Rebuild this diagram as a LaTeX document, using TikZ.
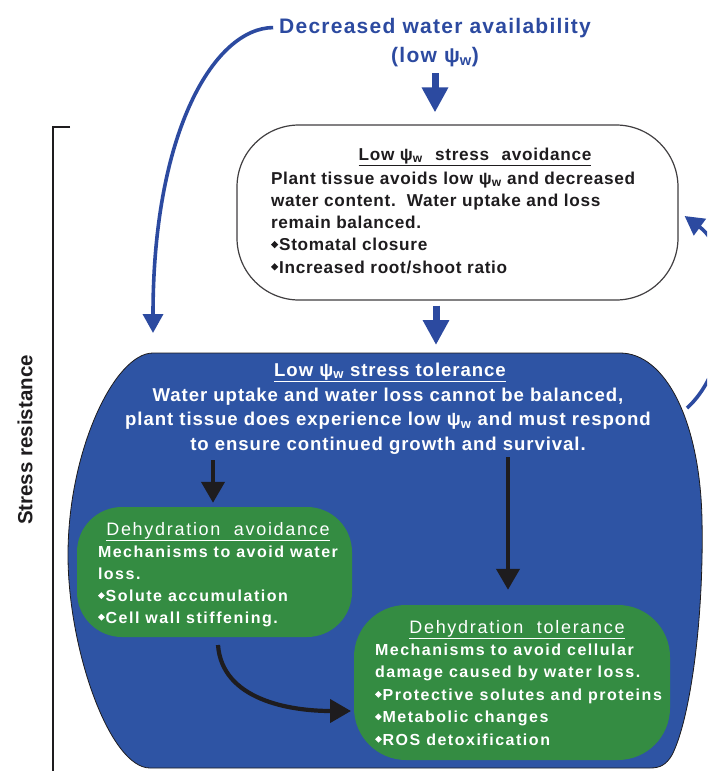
\documentclass[tikz,border=0pt]{standalone}
\usepackage{fontspec}
\setmainfont{Liberation Sans}
\newfontfamily\tfont{Liberation Sans}[LetterSpace=6]
\newfontfamily\wfont{Liberation Sans}[LetterSpace=4]
\newfontfamily\bfont{Liberation Sans}[LetterSpace=5]
\newfontfamily\gfont{Liberation Sans}[LetterSpace=9.5]
\usetikzlibrary{arrows.meta}
\definecolor{tblue}{RGB}{44,74,160}
\definecolor{sblue}{RGB}{46,84,164}
\definecolor{gfill}{RGB}{52,140,66}
\definecolor{ink}{RGB}{30,28,30}
\newcommand\bul{\raisebox{0.28ex}{\rotatebox{45}{\rule{0.3em}{0.3em}}}\kern0.05em}
\newcommand\psiw{ψ\textsubscript{w}}
\tikzset{
  txt/.style={inner sep=0pt, outer sep=0pt},
  barrow/.style={draw=tblue, line width=7pt, -{Triangle[width=25pt,length=25pt]}},
  bcurve/.style={draw=tblue, line width=3.6pt, -{Triangle[width=20pt,length=19pt]}},
  karrow/.style={draw=ink, line width=4.2pt, -{Triangle[width=23pt,length=21pt]}},
  gbox/.style={fill=gfill, draw=none, inner sep=0pt},
  wtitle/.style={txt, font=\wfont\bfseries\fontsize{17.2}{22.2}\selectfont, text=ink},
  wbody/.style={txt, align=left, font=\wfont\bfseries\fontsize{17.2}{22.2}\selectfont, text=ink},
  btitle/.style={txt, font=\bfont\bfseries\fontsize{18.6}{24.5}\selectfont, text=white},
  bbody/.style={txt, align=center, font=\bfont\bfseries\fontsize{18.6}{24.5}\selectfont, text=white},
  gtitle/.style={txt, font=\gfont\fontsize{18}{22}\selectfont, text=white},
  gbody1/.style={txt, align=left, font=\gfont\bfseries\fontsize{16}{21.7}\selectfont, text=white},
  gbody2/.style={txt, align=left, font=\gfont\bfseries\fontsize{16}{22.4}\selectfont, text=white},
}
\begin{document}
\begin{tikzpicture}[x=1pt,y=-1pt]
\useasboundingbox (0,0) rectangle (707,771);
\clip (0,0) rectangle (707,771);

% top title
\node[txt, anchor=base, text=tblue, font=\tfont\bfseries\fontsize{21}{25}\selectfont] (dwa) at (435,33) {Decreased water availability};
\node[txt, anchor=base, text=tblue, font=\tfont\bfseries\fontsize{21}{25}\selectfont] (low) at (435,62) {(low \psiw)};

% bracket and side label
\draw[ink, line width=2.5pt] (70,127) -- (53,127) -- (53,775);
\node[txt, rotate=90, text=ink, font=\bfseries\fontsize{20.5}{24}\selectfont] (sr) at (25,440) {Stress resistance};

% white avoidance box
\node[draw=ink!85, line width=1.2pt, fill=white, rounded corners=62pt, minimum width=441pt, minimum height=175pt, inner sep=0pt] (avoid) at (457.5,212.5) {};
\node[wtitle, anchor=base] (avt) at (475,160) {\underline{Low \psiw\hspace{7pt} stress\hspace{7pt} avoidance}};
% multi-line nodes: base anchor = baseline of last line
\node[wbody, anchor=base west] (avb) at (271,273) {Plant tissue avoids low \psiw{} and decreased\\water content.\ \ Water uptake and loss\\remain balanced.\\\bul Stomatal closure\\\bul Increased root/shoot ratio};

% blue tolerance shape
\coordinate (toltop) at (436,353);
\coordinate (tolleft) at (153,353);
\path[draw=ink, line width=0.8pt, fill=sblue]
  (153,353) -- (620,353)
  .. controls (665,353) and (700,420) .. (702,520)
  .. controls (704,620) and (690,720) .. (672,755)
  .. controls (666,765) and (660,768) .. (650,768)
  -- (150,768)
  .. controls (110,768) and (68,650) .. (68,555)
  .. controls (68,450) and (115,353) .. (153,353) -- cycle;
\node[btitle, anchor=base] (tolt) at (390,376) {\underline{Low \psiw{} stress tolerance}};
\node[bbody, anchor=base] (tolb) at (388,450) {Water uptake and water loss cannot be balanced,\\plant tissue does experience low \psiw{} and must respond\\to ensure continued growth and survival.};

% green boxes
\node[gbox, rounded corners=45pt, minimum width=275pt, minimum height=130pt] (g1) at (214.5,572) {};
\node[gtitle, anchor=base] (g1t) at (218,535) {\underline{Dehydration\ \ avoidance}};
\node[gbody1, anchor=base west] (g1b) at (98,623) {Mechanisms to avoid water\\loss.\\\bul Solute accumulation\\\bul Cell wall stiffening.};

\node[gbox, rounded corners=52pt, minimum width=316pt, minimum height=155pt] (g2) at (512,682.5) {};
\node[gtitle, anchor=base] (g2t) at (517,633) {\underline{Dehydration\ \ tolerance}};
\node[gbody2, anchor=base west] (g2b) at (375,745) {Mechanisms to avoid cellular\\damage caused by water loss.\\\bul Protective solutes and proteins\\\bul Metabolic changes\\\bul ROS detoxification};

% blue arrows
\path (low.south |- avoid.north) coordinate (a1e);
\path (toltop |- avoid.south) coordinate (a2s);
\draw[barrow] ([yshift=-7pt]low.south) -- ([yshift=12pt]a1e);
\draw[barrow] ([yshift=-5pt]a2s) -- ([yshift=8pt]toltop);
\draw[bcurve] ([xshift=-6pt]dwa.west) .. controls (215,28) and (153,130) .. ([yshift=20pt]tolleft);
\coordinate (rstart) at (687,408);
\draw[bcurve] (rstart) .. controls (735,365) and (738,255) .. ([xshift=6pt,yshift=-3.5pt]avoid.east);

% black arrows
\coordinate (k1) at (213,460);
\coordinate (k2) at (508,457);
\path (k1 |- g1.north) coordinate (k1e);
\path (k2 |- g2.north) coordinate (k2e);
\coordinate (k3) at (218,645);
\coordinate (k3e) at (351,711);
\draw[karrow] (k1) -- ([yshift=4pt]k1e);
\draw[karrow] (k2) -- ([yshift=15pt]k2e);
\draw[karrow] (k3) .. controls (222,700) and (290,711) .. (k3e);
\end{tikzpicture}
\end{document}
